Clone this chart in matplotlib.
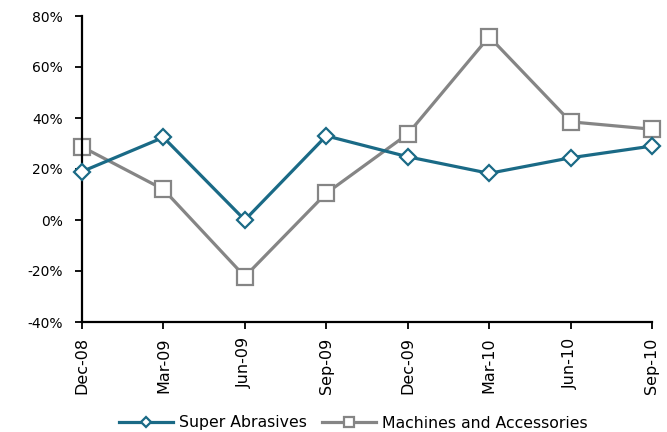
import matplotlib
matplotlib.use("Agg")
import matplotlib.pyplot as plt
from matplotlib.ticker import FuncFormatter

quarters = ["Dec-08", "Mar-09", "Jun-09", "Sep-09", "Dec-09", "Mar-10", "Jun-10", "Sep-10"]
super_abrasives = [19.0, 32.4, 0.0, 33.0, 24.8, 18.3, 24.4, 29.0]
machines_accessories = [28.7, 12.0, -22.2, 10.5, 33.7, 71.9, 38.5, 35.6]

plt.rcParams['font.family'] = ['DejaVu Sans']

fig = plt.figure(figsize=(6.67, 4.32), dpi=100)
ax = fig.add_axes([82/667, 1-322/432, (652-82)/667, (322-16)/432])

x = list(range(len(quarters)))
teal = "#1A6A86"
gray = "#858585"
ax.plot(x, super_abrasives, color=teal, lw=2.3, marker="D", ms=8.5,
        mfc="white", mec=teal, mew=1.6, label="Super Abrasives", zorder=3, clip_on=False)
ax.plot(x, machines_accessories, color=gray, lw=2.3, marker="s", ms=11,
        mfc="white", mec=gray, mew=1.6, label="Machines and Accessories", zorder=2, clip_on=False)

ax.set_xlim(0, len(quarters) - 1)
ax.set_ylim(-40, 80)
ax.set_yticks(range(-40, 81, 20))
ax.yaxis.set_major_formatter(FuncFormatter(lambda v, p: f"{v:.0f}%"))
ax.set_xticks(x)
ax.set_xticklabels(quarters, rotation=90)

for s in ["top", "right"]:
    ax.spines[s].set_visible(False)
for s in ["left", "bottom"]:
    ax.spines[s].set_linewidth(1.6)
    ax.spines[s].set_color("black")
ax.tick_params(axis="both", direction="out", length=5, width=1.3, colors="black")
ax.tick_params(axis="y", pad=9, labelsize=10)
ax.tick_params(axis="x", pad=6, labelsize=11.5)

fig.legend(loc="center", bbox_to_anchor=(0.53, 1 - 423/432), ncol=2, frameon=False,
           fontsize=11.3, handlelength=3.4, columnspacing=1.0, handletextpad=0.4,
           markerscale=0.65)

fig.savefig("out.png", dpi=100)
